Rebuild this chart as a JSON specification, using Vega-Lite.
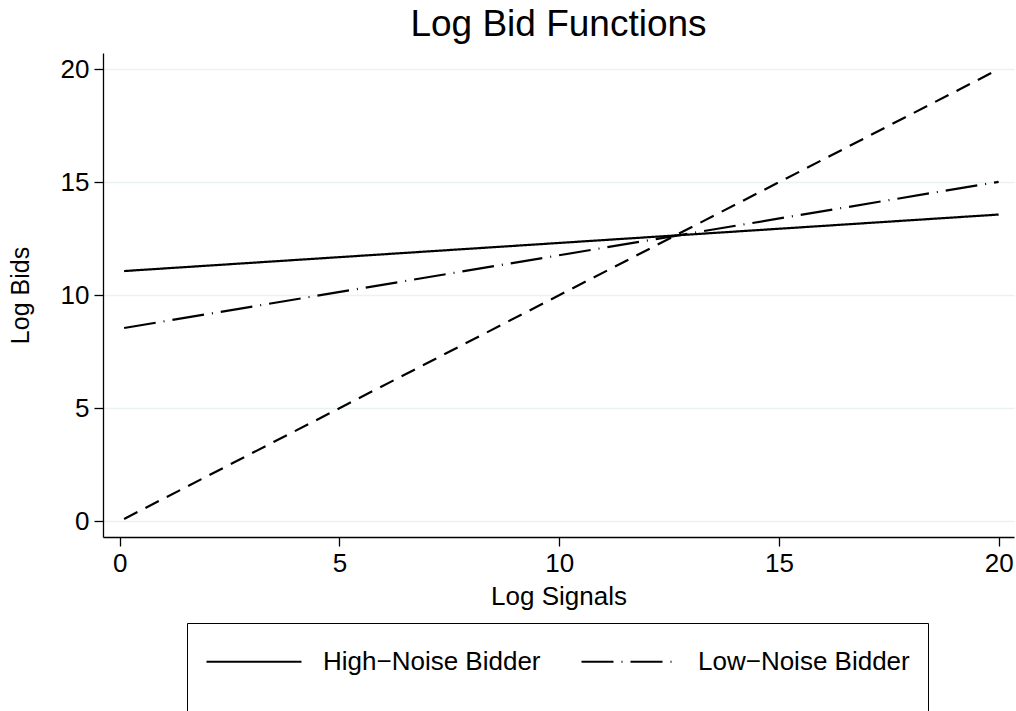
{
  "$schema": "https://vega.github.io/schema/vega-lite/v6.json",
  "width": 911,
  "height": 484,
  "autosize": {"type": "none"},
  "padding": {"left": 103, "top": 53, "right": 2, "bottom": 174},
  "background": "white",
  "title": {"text": "Log Bid Functions", "fontSize": 37, "font": "Liberation Sans", "fontWeight": "normal", "color": "black", "anchor": "middle", "offset": 9},
  "config": {
    "font": "Liberation Sans",
    "view": {"stroke": null},
    "axis": {"labelFont": "Liberation Sans", "titleFont": "Liberation Sans"},
    "legend": {"labelFont": "Liberation Sans", "titleFont": "Liberation Sans"}
  },
  "data": {
    "values": [
      {"series": "High−Noise Bidder", "x": 0.1, "y": 11.07},
      {"series": "High−Noise Bidder", "x": 20, "y": 13.57},
      {"series": "Low−Noise Bidder", "x": 0.1, "y": 8.55},
      {"series": "Low−Noise Bidder", "x": 20, "y": 15.02},
      {"series": "45 degree line", "x": 0.1, "y": 0.1},
      {"series": "45 degree line", "x": 20, "y": 20}
    ]
  },
  "mark": {"type": "line", "color": "black", "strokeWidth": 2.2, "strokeCap": "butt"},
  "encoding": {
    "x": {
      "field": "x", "type": "quantitative",
      "scale": {"domain": [-0.38, 20.35], "nice": false, "zero": false},
      "axis": {
        "title": "Log Signals", "values": [0, 5, 10, 15, 20], "grid": false,
        "domainColor": "black", "domainWidth": 1.3, "tickColor": "black", "tickWidth": 1.3, "tickSize": 9,
        "labelFontSize": 26, "labelColor": "black", "labelPadding": 4, "labelFlush": false,
        "titleFontSize": 26, "titleFontWeight": "normal", "titleColor": "black", "titlePadding": 7
      }
    },
    "y": {
      "field": "y", "type": "quantitative",
      "scale": {"domain": [-0.7, 20.72], "nice": false, "zero": false},
      "axis": {
        "title": "Log Bids", "values": [0, 5, 10, 15, 20], "grid": true, "gridColor": "#eaf2f3", "gridWidth": 1.5,
        "domainColor": "black", "domainWidth": 1.3, "tickColor": "black", "tickWidth": 1.3, "tickSize": 9,
        "labelFontSize": 26, "labelColor": "black", "labelPadding": 5, "labelFlush": false,
        "titleFontSize": 25, "titleFontWeight": "normal", "titleColor": "black", "titlePadding": 27
      }
    },
    "strokeDash": {
      "field": "series", "type": "nominal",
      "scale": {
        "domain": ["High−Noise Bidder", "Low−Noise Bidder", "45 degree line"],
        "range": [[1, 0], [32, 8, 1, 8], [15, 9]]
      },
      "legend": {
        "title": " ", "titleOrient": "bottom", "titleFontSize": 26, "titlePadding": 0,
        "values": ["High−Noise Bidder", "Low−Noise Bidder"],
        "orient": "none", "legendX": 84, "legendY": 570,
        "direction": "horizontal", "columns": 2,
        "strokeColor": "black", "padding": 18,
        "symbolType": "M-1,0H4", "symbolSize": 1444, "symbolStrokeWidth": 2.2, "symbolStrokeColor": "black",
        "labelFontSize": 26, "labelColor": "black", "labelOffset": 77, "labelLimit": 500, "columnPadding": 36
      }
    }
  }
}
